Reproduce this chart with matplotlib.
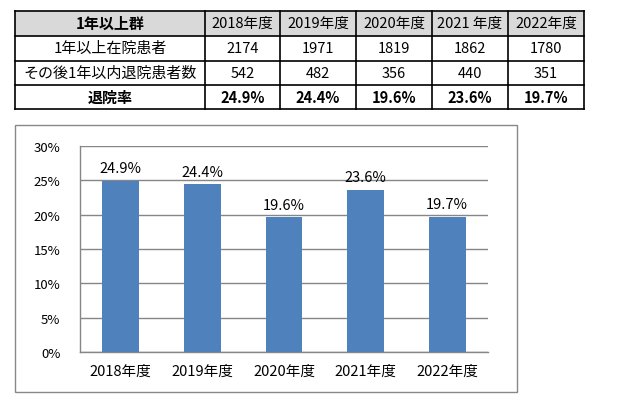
#!/usr/bin/env python3
"""Discharge rate of long-stay (1 year+) inpatients: table + bar chart."""

import matplotlib.pyplot as plt
from matplotlib.patches import Rectangle

# data
years = ["2018年度", "2019年度", "2020年度", "2021年度", "2022年度"]
table_years = ["2018年度", "2019年度", "2020年度", "2021 年度", "2022年度"]
inpatients = [2174, 1971, 1819, 1862, 1780]
discharged = [542, 482, 356, 440, 351]
rate = [24.9, 24.4, 19.6, 23.6, 19.7]
y_ticks = [0, 5, 10, 15, 20, 25, 30]

row_titles = ["1年以上群", "1年以上在院患者", "その後1年以内退院患者数", "退院率"]

W, H = 623, 414
JP = ["Noto Sans CJK JP", "DejaVu Sans"]
BAR = "#4f81bd"
GRID = "#868686"

plt.rcParams["font.family"] = JP

fig = plt.figure(figsize=(W / 100, H / 100), dpi=100)

# overlay in pixel coordinates for the table and chart frame
ov = fig.add_axes([0, 0, 1, 1])
ov.set_xlim(0, W)
ov.set_ylim(H, 0)
ov.axis("off")

col_x = [15, 205, 280, 356, 432, 508, 584]
row_y = [11.5, 36.5, 61.5, 86, 110]

ov.add_patch(Rectangle((col_x[0], row_y[0]), col_x[-1] - col_x[0], row_y[1] - row_y[0],
                       facecolor="#d9d9d9", edgecolor="none", zorder=0))
for x in col_x:
    ov.plot([x, x], [row_y[0], row_y[-1]], color="black", lw=1.2, solid_capstyle="projecting")
for y in row_y:
    ov.plot([col_x[0], col_x[-1]], [y, y], color="black", lw=1.2, solid_capstyle="projecting")

rows = [
    table_years,
    [str(v) for v in inpatients],
    [str(v) for v in discharged],
    [f"{v:.1f}%" for v in rate],
]
for r, (title, cells) in enumerate(zip(row_titles, rows)):
    cy = (row_y[r] + row_y[r + 1]) / 2
    bold = r in (0, 3)
    ov.text((col_x[0] + col_x[1]) / 2, cy, title, ha="center", va="center",
            fontsize=10.8, fontweight="bold" if bold else "normal")
    for c, txt in enumerate(cells):
        cx = (col_x[c + 1] + col_x[c + 2]) / 2
        ov.text(cx, cy, txt, ha="center", va="center", fontsize=10.5,
                fontweight="bold" if r == 3 else "normal")

# chart frame
ov.add_patch(Rectangle((15, 126), 502, 267, facecolor="none", edgecolor="#888888", lw=1.0))

# bar chart
left, right, top, bottom = 80, 488, 146.7, 353.3
ax = fig.add_axes([left / W, (H - bottom) / H, (right - left) / W, (bottom - top) / H])
xs = range(len(years))
bars = ax.bar(xs, rate, width=0.45, color=BAR, zorder=3)
for x, v in zip(xs, rate):
    ax.annotate(f"{v:.1f}%", (x, v), xytext=(0, 4), textcoords="offset points",
                ha="center", va="bottom", fontsize=10.5)

ax.set_xlim(-0.5, len(years) - 0.5)
ax.set_ylim(0, 30)
ax.set_yticks(y_ticks)
ax.set_yticklabels([f"{t}%" for t in y_ticks], fontsize=9.5)
ax.set_xticks(list(xs))
ax.set_xticklabels(years, fontsize=10.5)
ax.tick_params(axis="both", length=0)
ax.tick_params(axis="y", pad=14)
ax.tick_params(axis="x", pad=8)
ax.yaxis.grid(True, color=GRID, lw=1.0, zorder=0)
for side in ("top", "right"):
    ax.spines[side].set_visible(False)
for side in ("left", "bottom"):
    ax.spines[side].set_color(GRID)
    ax.spines[side].set_linewidth(1.0)

fig.savefig("out.png", dpi=100)
